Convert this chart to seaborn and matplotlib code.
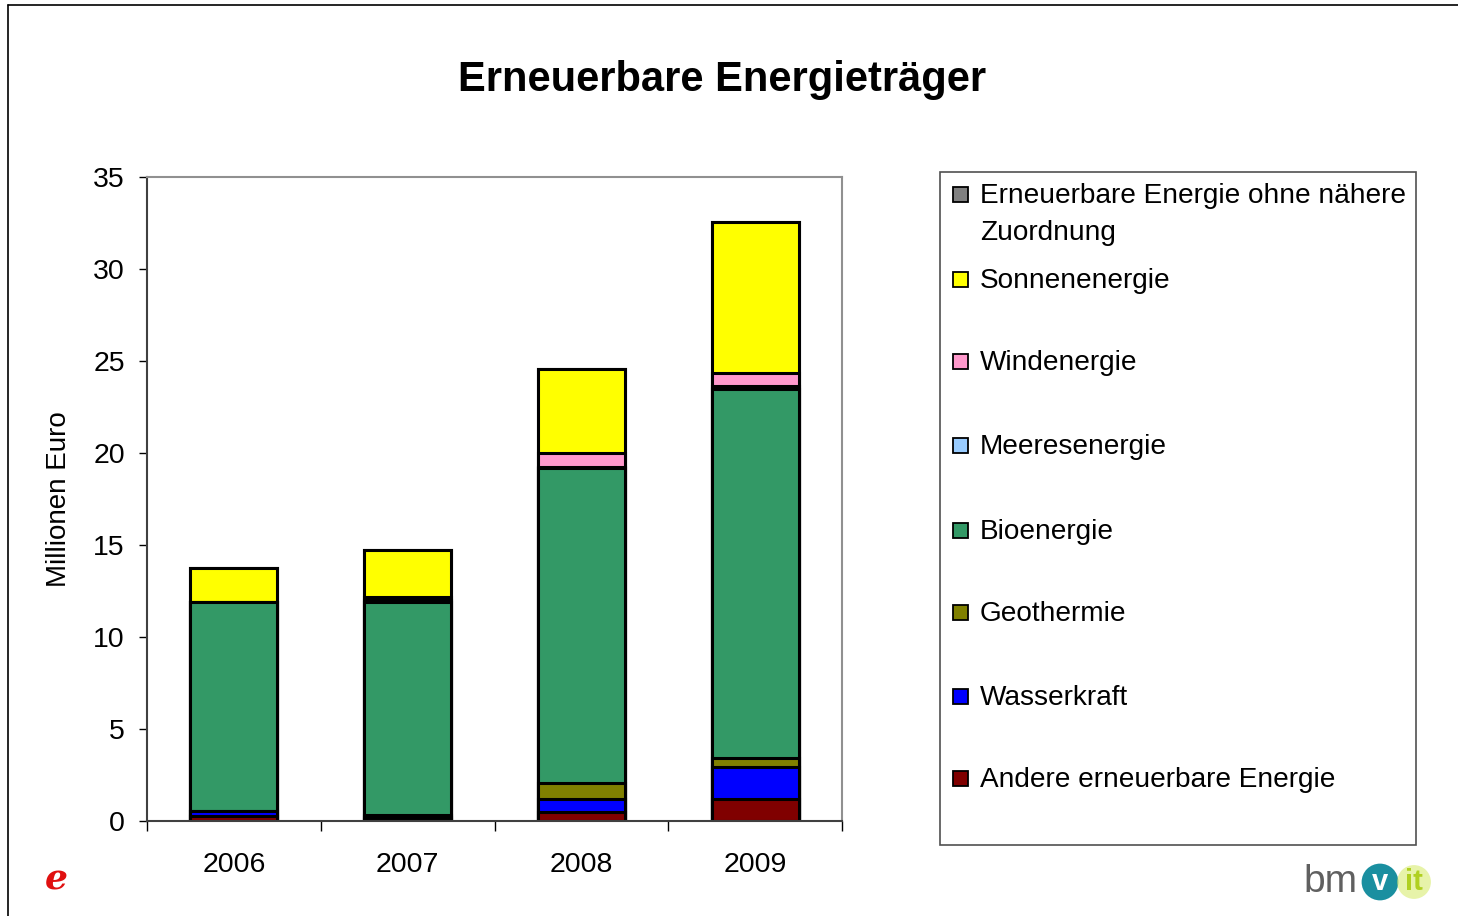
import matplotlib
matplotlib.use('Agg')
import matplotlib.pyplot as plt
import seaborn as sns
import numpy as np
from matplotlib.patches import Rectangle
from matplotlib.lines import Line2D

# data (Millionen Euro)
years = ['2006', '2007', '2008', '2009']
andere = [0.25, 0.12, 0.5, 1.2]
wasser = [0.3, 0.1, 0.7, 1.75]
geothermie = [0.0, 0.1, 0.87, 0.47]
bio = [11.35, 11.6, 17.1, 20.05]
meer = [0.0, 0.1, 0.05, 0.15]
wind = [0.0, 0.15, 0.8, 0.75]
sonne = [1.85, 2.55, 4.55, 8.2]
ohne = [0.0, 0.0, 0.0, 0.0]

# bottom -> top
layers = [andere, wasser, geothermie, bio, meer, wind, sonne, ohne]
labels = ['Andere erneuerbare Energie', 'Wasserkraft', 'Geothermie', 'Bioenergie',
          'Meeresenergie', 'Windenergie', 'Sonnenenergie',
          'Erneuerbare Energie ohne nähere']
colors = ['#800000', '#0000FF', '#808000', '#339966',
          '#99CCFF', '#FF99CC', '#FFFF00', '#808080']

sns.set_style('white')
plt.rcParams['font.family'] = ['Liberation Sans', 'DejaVu Sans']
plt.rcParams['text.color'] = 'black'
plt.rcParams['axes.labelcolor'] = 'black'
plt.rcParams['xtick.color'] = 'black'
plt.rcParams['ytick.color'] = 'black'

fig = plt.figure(figsize=(14.58, 9.16), dpi=100)
ax = fig.add_axes([147/1458, 1-821/916, (842-147)/1458, (821-177)/916])

cum = np.cumsum(np.array(layers), axis=0)
# draw from top of the stack down so lower layers overdraw upper ones
for i in range(len(layers)-1, -1, -1):
    sns.barplot(x=years, y=cum[i], color=colors[i], saturation=1, width=0.5,
                edgecolor='black', linewidth=2.2, errorbar=None, ax=ax)

ax.set_xlim(-0.5, 3.5)
ax.set_ylim(0, 35)
ax.set_yticks(range(0, 36, 5))
ax.set_xticks(range(4))
ax.set_xticks(np.arange(-0.5, 4, 1), minor=True)
ax.tick_params(axis='x', which='major', length=0, pad=22, labelsize=20.5)
ax.tick_params(axis='x', which='minor', length=7, width=1, direction='out', color='black', bottom=True)
ax.tick_params(axis='y', length=6, width=1, direction='out', color='black', left=True,
               pad=10, labelsize=20.5)
ax.set_ylabel('Millionen Euro', fontsize=20)
ax.yaxis.set_label_coords(-(147-72)/695, 0.5)
ax.set_xlabel('')

for s in ['top', 'right']:
    ax.spines[s].set_color('#909090')
    ax.spines[s].set_linewidth(1.5)
for s in ['left', 'bottom']:
    ax.spines[s].set_color('#404040')
    ax.spines[s].set_linewidth(1.5)

fig.text(722/1458, 1-80/916, 'Erneuerbare Energieträger', ha='center', va='center',
         fontsize=30, fontweight='bold')

# outer frame
fig.add_artist(Line2D([8/1458, 8/1458], [0, 1-5/916], transform=fig.transFigure, color='black', lw=1.2))
fig.add_artist(Line2D([8/1458, 1], [1-5/916, 1-5/916], transform=fig.transFigure, color='black', lw=1.2))

# legend box
fig.add_artist(Rectangle((940/1458, 1-845/916), (1416-940)/1458, (845-172)/916,
                         transform=fig.transFigure, facecolor='white', edgecolor='#505050', lw=1.2))
leg_y = [777, 695, 611, 529, 444, 360, 278, 193]
for i in range(len(labels)):
    yc = leg_y[i]
    fig.add_artist(Rectangle((953/1458, 1-(yc+9)/916), 15/1458, 15/916,
                             transform=fig.transFigure, facecolor=colors[i],
                             edgecolor='black', lw=1.3))
    fig.text(980/1458, 1-(yc+10)/916, labels[i], ha='left', va='baseline', fontsize=20.2)
fig.text(980/1458, 1-(230+10)/916, 'Zuordnung', ha='left', va='baseline', fontsize=20.2)

# logos
fig.text(56/1458, 1-880/916, 'e', color='#e01010', fontsize=26, fontstyle='italic',
         fontweight='bold', ha='center', va='center', family='DejaVu Serif')
fig.text(1303/1458, 1-882/916, 'bm', color='#606060', fontsize=28, ha='left', va='center')
fig.text(1380/1458, 1-882/916, 'v', color='white', fontsize=21, fontweight='bold',
         ha='center', va='center',
         bbox=dict(boxstyle='circle,pad=0.15', facecolor='#1a8fa0', edgecolor='none'))
fig.text(1414/1458, 1-882/916, 'it', color='#b0d020', fontsize=21, fontweight='bold',
         ha='center', va='center',
         bbox=dict(boxstyle='circle,pad=0.1', facecolor='#d8ec70', edgecolor='none', alpha=0.6))

fig.savefig('out.png', dpi=100)
